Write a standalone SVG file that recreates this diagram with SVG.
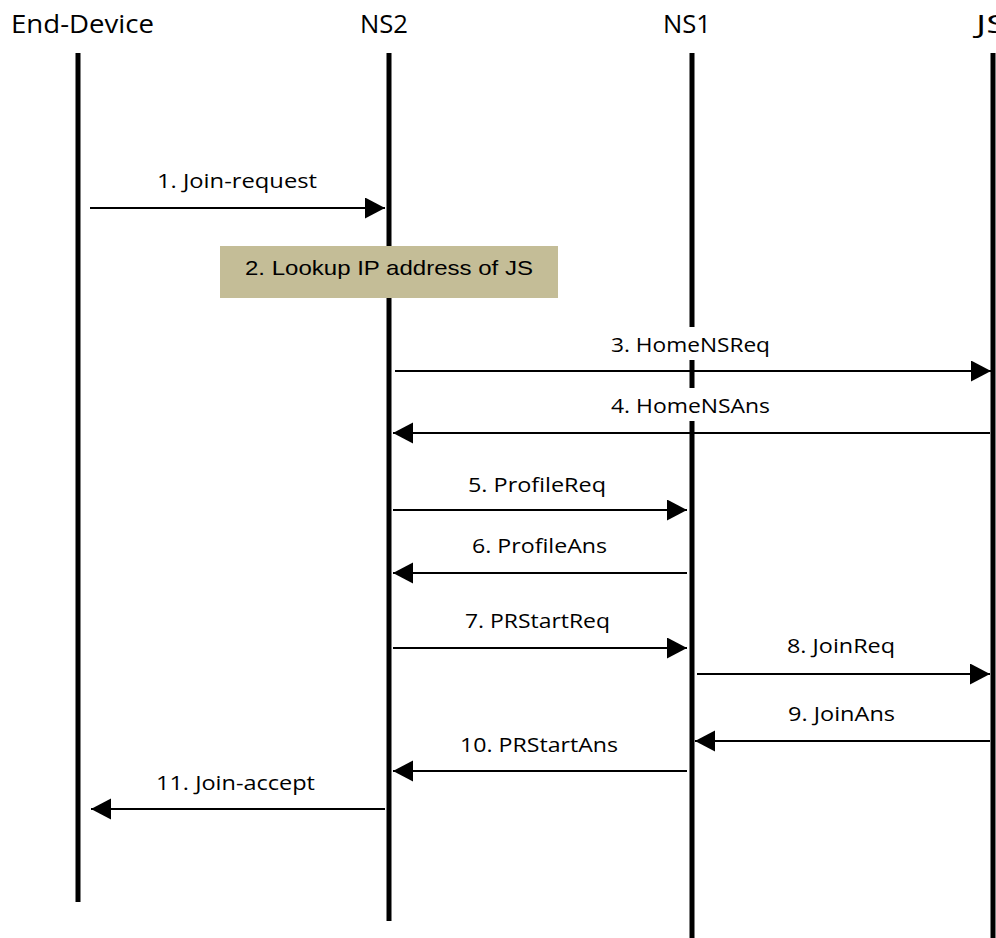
<svg xmlns="http://www.w3.org/2000/svg" width="996" height="938" viewBox="0 0 996 938">
<style>
.hdr{font-family:"Open Sans","Noto Sans",sans-serif;font-size:25.5px;fill:#000}
.lbl{font-family:"Open Sans","Noto Sans",sans-serif;font-size:20px;fill:#000;text-anchor:middle}
.life{stroke:#000;stroke-width:5;fill:none}
.msg{stroke:#000;stroke-width:2;fill:none;marker-end:url(#ah)}
.bg{fill:#fff}
.box{fill:#C4BD97}
.boxt{font-family:"Liberation Sans",Arial,sans-serif;font-size:21px;fill:#000;text-anchor:middle}
</style>
<defs>
<marker id="ah" markerUnits="userSpaceOnUse" markerWidth="21" markerHeight="22" refX="20" refY="10.5" orient="auto">
<path d="M0,0 L20,10.5 L0,21 z" fill="#000"/>
</marker>
</defs>
<rect width="996" height="938" fill="#fff"/>
<g id="end-device">
<text class="hdr" x="11" y="33" textLength="143" lengthAdjust="spacingAndGlyphs">End-Device</text>
<line class="life" x1="78" y1="53" x2="78" y2="902"/>
</g>
<g id="ns2">
<text class="hdr" x="360" y="33" textLength="48" lengthAdjust="spacingAndGlyphs">NS2</text>
<line class="life" x1="389" y1="53" x2="389" y2="921"/>
</g>
<g id="ns1">
<text class="hdr" x="663" y="33" textLength="48" lengthAdjust="spacingAndGlyphs">NS1</text>
<line class="life" x1="692" y1="53" x2="692" y2="938"/>
</g>
<g id="js">
<text class="hdr" x="976" y="33" textLength="31" lengthAdjust="spacingAndGlyphs">JS</text>
<line class="life" x1="993" y1="53" x2="993" y2="938"/>
</g>
<g id="lookup">
<rect class="box" x="220" y="246" width="338" height="52"/>
<text class="boxt" x="389" y="275" textLength="288" lengthAdjust="spacingAndGlyphs">2. Lookup IP address of JS</text>
</g>
<g id="connectors">
<g id="m1"><line class="msg" x1="90" y1="208" x2="385" y2="208"/>
<rect class="bg" x="153" y="163" width="168" height="33"/>
<text class="lbl" x="237" y="188" textLength="160" lengthAdjust="spacingAndGlyphs">1. Join-request</text></g>
<g id="m3"><line class="msg" x1="395" y1="371" x2="991" y2="371"/>
<rect class="bg" x="607" y="327" width="167" height="33"/>
<text class="lbl" x="690.5" y="352" textLength="159" lengthAdjust="spacingAndGlyphs">3. HomeNSReq</text></g>
<g id="m4"><line class="msg" x1="990" y1="433" x2="393" y2="433"/>
<rect class="bg" x="607" y="388" width="167" height="33"/>
<text class="lbl" x="690.5" y="413" textLength="159" lengthAdjust="spacingAndGlyphs">4. HomeNSAns</text></g>
<g id="m5"><line class="msg" x1="393" y1="510" x2="687" y2="510"/>
<text class="lbl" x="537" y="492" textLength="138" lengthAdjust="spacingAndGlyphs">5. ProfileReq</text></g>
<g id="m6"><line class="msg" x1="687" y1="573" x2="393" y2="573"/>
<text class="lbl" x="539.5" y="553" textLength="135" lengthAdjust="spacingAndGlyphs">6. ProfileAns</text></g>
<g id="m7"><line class="msg" x1="393" y1="648" x2="687" y2="648"/>
<text class="lbl" x="537.5" y="628" textLength="145" lengthAdjust="spacingAndGlyphs">7. PRStartReq</text></g>
<g id="m8"><line class="msg" x1="697" y1="674" x2="990" y2="674"/>
<text class="lbl" x="841" y="653" textLength="108" lengthAdjust="spacingAndGlyphs">8. JoinReq</text></g>
<g id="m9"><line class="msg" x1="990" y1="741" x2="695" y2="741"/>
<text class="lbl" x="841.5" y="721" textLength="107" lengthAdjust="spacingAndGlyphs">9. JoinAns</text></g>
<g id="m10"><line class="msg" x1="687" y1="771" x2="393" y2="771"/>
<text class="lbl" x="539" y="752" textLength="158" lengthAdjust="spacingAndGlyphs">10. PRStartAns</text></g>
<g id="m11"><line class="msg" x1="385" y1="809" x2="91" y2="809"/>
<text class="lbl" x="235.5" y="790" textLength="159" lengthAdjust="spacingAndGlyphs">11. Join-accept</text></g>
</g>
</svg>
